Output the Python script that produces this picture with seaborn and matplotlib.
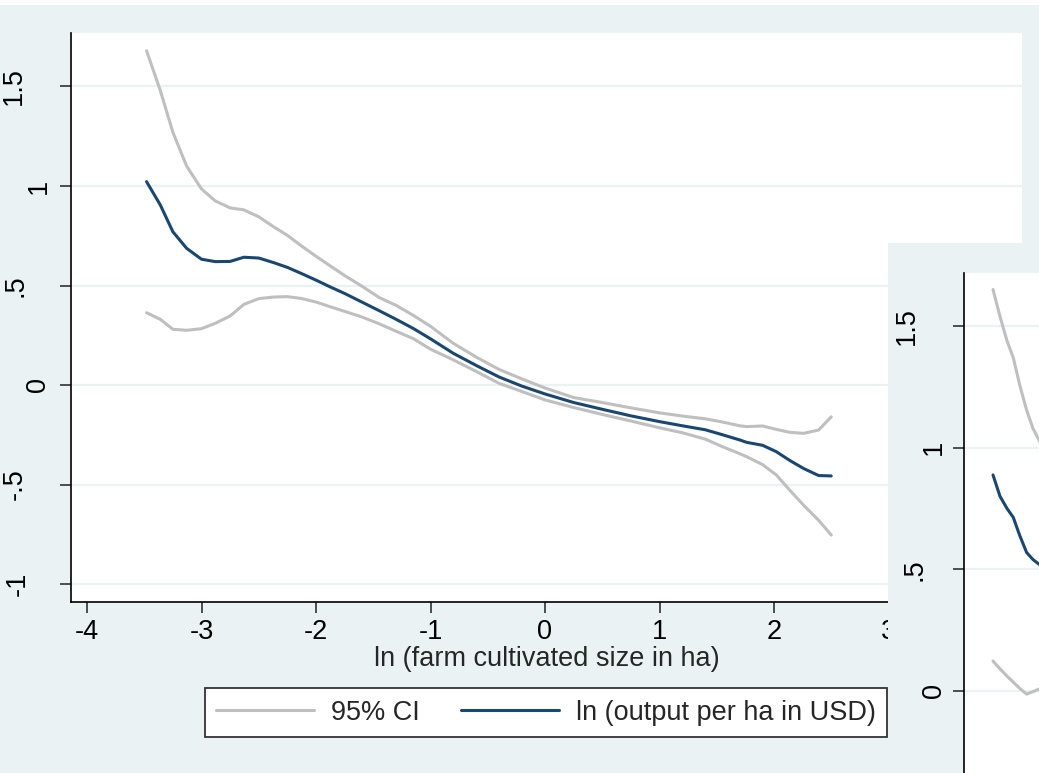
import matplotlib
matplotlib.use("Agg")
import matplotlib.pyplot as plt
from matplotlib.patches import Rectangle
from matplotlib.lines import Line2D
from matplotlib.transforms import blended_transform_factory, ScaledTranslation
import seaborn as sns
import numpy as np
import pandas as pd

# ---------------- data ----------------
farm_size = [-3.48, -3.36, -3.25, -3.13, -3.0, -2.88, -2.75, -2.63, -2.5, -2.37,
             -2.25, -2.13, -2.0, -1.88, -1.75, -1.6, -1.45, -1.3, -1.15, -1.0,
             -0.8, -0.6, -0.4, -0.2, 0.0, 0.25, 0.5, 0.75, 1.0, 1.2,
             1.4, 1.55, 1.7, 1.76, 1.9, 2.02, 2.14, 2.26, 2.39, 2.5]
ci_upper = [1.68, 1.48, 1.27, 1.10, 0.985, 0.925, 0.89, 0.88, 0.845, 0.795,
            0.752, 0.70, 0.647, 0.600, 0.550, 0.497, 0.440, 0.40, 0.35, 0.295,
            0.209, 0.14, 0.078, 0.03, -0.015, -0.063, -0.088, -0.115, -0.14, -0.156,
            -0.17, -0.186, -0.205, -0.209, -0.206, -0.223, -0.238, -0.243, -0.226, -0.16]
fitted = [1.022, 0.905, 0.77, 0.687, 0.632, 0.62, 0.621, 0.642, 0.638, 0.615,
          0.591, 0.561, 0.527, 0.494, 0.46, 0.417, 0.374, 0.33, 0.284, 0.232,
          0.159, 0.098, 0.04, -0.006, -0.045, -0.088, -0.122, -0.155, -0.184, -0.205,
          -0.225, -0.25, -0.276, -0.288, -0.303, -0.335, -0.38, -0.42, -0.455, -0.457]
ci_lower = [0.363, 0.330, 0.28, 0.275, 0.283, 0.31, 0.347, 0.405, 0.434, 0.442,
            0.444, 0.435, 0.417, 0.394, 0.37, 0.342, 0.308, 0.27, 0.233, 0.18,
            0.126, 0.068, 0.008, -0.033, -0.075, -0.113, -0.148, -0.181, -0.215, -0.24,
            -0.272, -0.31, -0.345, -0.36, -0.40, -0.452, -0.53, -0.605, -0.68, -0.754]

# second (overlapping, cropped) graph
farm_size2 = [-3.5, -3.45, -3.40, -3.355, -3.31, -3.26, -3.215, -3.17, -3.12]
ci_upper2 = [1.651, 1.54, 1.44, 1.37, 1.26, 1.155, 1.08, 1.03, 0.98]
fitted2 = [0.888, 0.80, 0.75, 0.713, 0.64, 0.569, 0.54, 0.52, 0.50]
ci_lower2 = [0.122, 0.09, 0.06, 0.035, 0.01, -0.014, -0.004, 0.007, 0.02]

xticks = [-4, -3, -2, -1, 0, 1, 2, 3]
xtick_labels = ["-4", "-3", "-2", "-1", "0", "1", "2", "3"]
yticks = [-1, -0.5, 0, 0.5, 1, 1.5]
ytick_labels = ["-1", "-.5", "0", ".5", "1", "1.5"]
yticks2 = [0, 0.5, 1, 1.5]
ytick_labels2 = ["0", ".5", "1", "1.5"]

x_title = "ln (farm cultivated size in ha)"
legend_labels = ["95% CI", "ln (output per ha in USD)"]

# ---------------- style ----------------
sns.set_theme(style="white")
plt.rcParams['font.family'] = ['Liberation Sans', 'DejaVu Sans']

BG = "#EAF2F3"
GRID = "#EAF2F3"
NAVY = "#1A476F"
GRAY = "#BFBFBF"
FS = 19.5
LW = 2.2

W, H = 1039, 773
fig = plt.figure(figsize=(W / 100, H / 100), dpi=100, facecolor="white")


def fx(px):
    return px / W


def fy(py):
    return 1 - py / H


def style_axes(a, ticks, labels, offsets):
    a.set_facecolor("white")
    for s in ["top", "right"]:
        a.spines[s].set_visible(False)
    for s in ["left", "bottom"]:
        a.spines[s].set_color("black")
        a.spines[s].set_linewidth(1.2)
    a.set_axisbelow(True)
    a.set_yticks(ticks)
    a.yaxis.grid(True, color=GRID, lw=1.6)
    a.xaxis.grid(False)
    a.tick_params(axis="both", direction="out", length=8, width=1.1, color="#222222",
                  labelsize=FS, labelcolor="black", left=True, bottom=True)
    a.tick_params(axis="y", labelleft=False)
    # Stata-style vertical y labels
    tr = blended_transform_factory(a.transAxes, a.transData)
    for t, lab in zip(ticks, labels):
        off = offsets[lab]
        a.text(0, t, lab, transform=tr + ScaledTranslation(-off / 100, 0, fig.dpi_scale_trans),
               rotation=90, ha="center", va="center", fontsize=FS, color="black",
               clip_on=False)


# main background
fig.add_artist(Rectangle((0, 0), 1, fy(5), transform=fig.transFigure,
                         facecolor=BG, edgecolor="none", zorder=-2))

ax = fig.add_axes([fx(71), fy(602), fx(1022 - 71), (602 - 33) / H], zorder=0)
main_offsets = {"1.5": 57, "1": 32.5, ".5": 55, "0": 32.5, "-.5": 56, "-1": 53.5}
style_axes(ax, yticks, ytick_labels, main_offsets)

df_main = pd.DataFrame({"x": farm_size, "upper": ci_upper, "fit": fitted, "lower": ci_lower})
sns.lineplot(data=df_main, x="x", y="upper", ax=ax, color=GRAY, lw=LW, sort=False)
sns.lineplot(data=df_main, x="x", y="lower", ax=ax, color=GRAY, lw=LW, sort=False)
sns.lineplot(data=df_main, x="x", y="fit", ax=ax, color=NAVY, lw=LW, sort=False)

ax.set_xticks(xticks)
ax.set_xticklabels(xtick_labels)
ax.set_xlim((71 - 545) / 114.5, (1022 - 545) / 114.5)
ax.set_ylim((385 - 602) / 199, (385 - 33) / 199)
ax.tick_params(axis="x", pad=4)
ax.set_xlabel(x_title, fontsize=FS, labelpad=1)
ax.set_ylabel("")

handles = [Line2D([], [], color=GRAY, lw=LW), Line2D([], [], color=NAVY, lw=LW)]
leg = ax.legend(handles, legend_labels, loc="center", ncol=2,
                bbox_to_anchor=(fx(546), fy(712.5)), bbox_transform=fig.transFigure,
                frameon=True, fancybox=False, shadow=False, framealpha=1,
                edgecolor="#333333", facecolor="white", fontsize=FS,
                handlelength=3.6, handletextpad=0.63, columnspacing=1.55,
                borderpad=0.42, borderaxespad=0)
leg.get_frame().set_linewidth(1.3)

# second graph (overlapping, partly outside the canvas)
fig.add_artist(Rectangle((fx(888), -1), 1, 1 + fy(243), transform=fig.transFigure,
                         facecolor=BG, edgecolor="none", zorder=1))
ylo2, yhi2 = -1.09, 1 + (447.7 - 273) / 243
h2 = (yhi2 - ylo2) * 243
xlo2 = -3.5 - 29 / 140
xhi2 = 3.1
w2 = (xhi2 - xlo2) * 140
ax2 = fig.add_axes([fx(964), fy(273 + h2), w2 / W, h2 / H], zorder=2)
second_offsets = {"1.5": 57.5, "1": 30.5, ".5": 49.5, "0": 30.5}
style_axes(ax2, yticks2, ytick_labels2, second_offsets)
df2 = pd.DataFrame({"x": farm_size2, "upper": ci_upper2, "fit": fitted2, "lower": ci_lower2})
sns.lineplot(data=df2, x="x", y="upper", ax=ax2, color=GRAY, lw=LW, sort=False)
sns.lineplot(data=df2, x="x", y="lower", ax=ax2, color=GRAY, lw=LW, sort=False)
sns.lineplot(data=df2, x="x", y="fit", ax=ax2, color=NAVY, lw=LW, sort=False)
ax2.set_xticks([])
ax2.set_xlim(xlo2, xhi2)
ax2.set_ylim(ylo2, yhi2)
ax2.set_xlabel("")
ax2.set_ylabel("")

fig.savefig("out.png", dpi=100, facecolor="white")
